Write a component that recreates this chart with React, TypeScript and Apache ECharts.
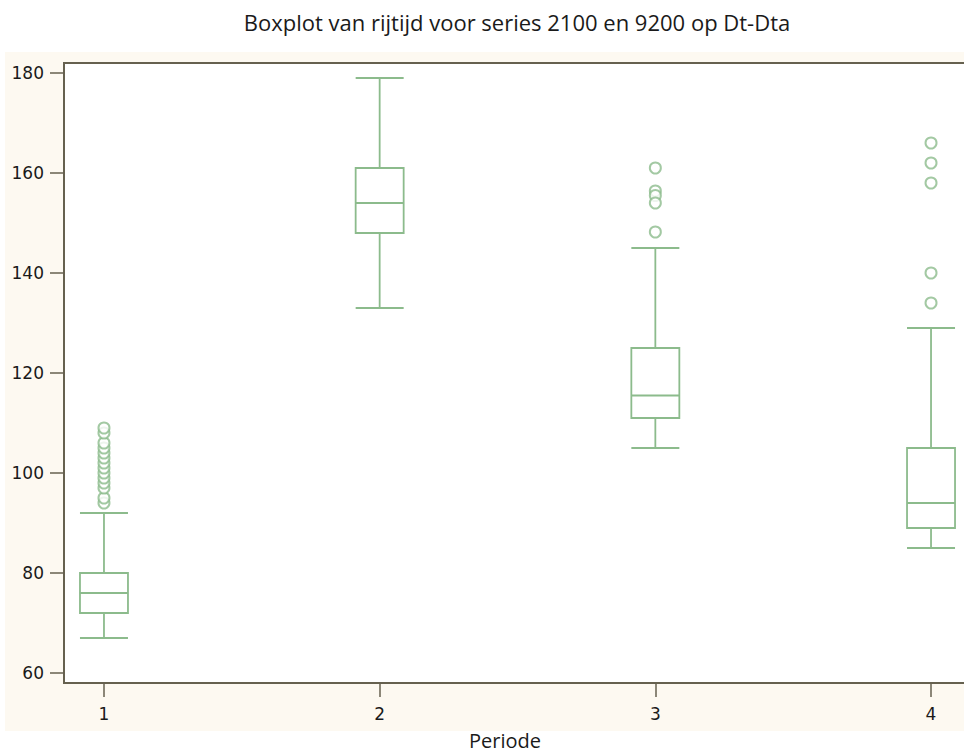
import React, { useEffect, useRef } from "react";
import * as echarts from "echarts";

const periods = [1, 2, 3, 4];
const whiskerLow = [67, 133, 105, 85];
const q1 = [72, 148, 111, 89];
const median = [76, 154, 115.5, 94];
const q3 = [80, 161, 125, 105];
const whiskerHigh = [92, 179, 145, 129];

const outliers1 = [94, 95, 97, 98, 99, 100, 101, 102, 103, 104, 105, 106, 108, 109];
const outliers2: number[] = [];
const outliers3 = [161, 156.4, 155.5, 154, 148.2];
const outliers4 = [166, 162, 158, 140, 134];

const yTicks = [60, 80, 100, 120, 140, 160, 180];
const xTicks = [1, 2, 3, 4];

const GREEN = "#8cbb8c";
const AXIS = "#66614f";
const BOX_HALF = 24;
const LABEL_FONT = "'DejaVu Sans', sans-serif";

export default function App() {
  const ref = useRef<HTMLDivElement>(null);
  useEffect(() => {
    if (!ref.current) return;
    const chart = echarts.init(ref.current, null, { renderer: "svg" });
    const boxData = periods.map((p, i) => [p, whiskerLow[i], q1[i], median[i], q3[i], whiskerHigh[i]]);
    const outlierData: number[][] = [];
    [outliers1, outliers2, outliers3, outliers4].forEach((arr, i) => {
      arr.forEach((v) => outlierData.push([periods[i], v]));
    });
    chart.setOption({
      animation: false,
      backgroundColor: "#ffffff",
      graphic: [
        {
          type: "rect",
          z: -10,
          silent: true,
          shape: { x: 5, y: 52, width: 1000, height: 679 },
          style: { fill: "#fdf9f1" },
        },
        {
          type: "text",
          x: 517,
          y: 22,
          style: {
            text: "Boxplot van rijtijd voor series 2100 en 9200 op Dt-Dta",
            fill: "#1a1a1a",
            font: "22px 'Open Sans', sans-serif",
            textAlign: "center",
            textVerticalAlign: "middle",
          },
        },
        {
          type: "text",
          x: 505,
          y: 740,
          style: {
            text: "Periode",
            fill: "#1a1a1a",
            font: "20px 'Open Sans', sans-serif",
            textAlign: "center",
            textVerticalAlign: "middle",
          },
        },
      ],
      grid: {
        left: 64,
        top: 63,
        width: 907,
        height: 620,
        show: true,
        backgroundColor: "#ffffff",
        borderColor: AXIS,
        borderWidth: 2,
        z: 0,
      },
      xAxis: {
        type: "value",
        min: 0.855,
        max: 4.145,
        splitLine: { show: false },
        axisLine: { show: true, lineStyle: { color: AXIS, width: 2 } },
        axisTick: { show: true, length: 14, customValues: xTicks, lineStyle: { color: AXIS, width: 1.5 } },
        axisLabel: {
          customValues: xTicks,
          margin: 22,
          color: "#1a1a1a",
          fontSize: 17,
          fontFamily: LABEL_FONT,
        },
      },
      yAxis: {
        type: "value",
        min: 58,
        max: 182,
        splitLine: { show: false },
        axisLine: { show: true, lineStyle: { color: AXIS, width: 2 } },
        axisTick: { show: true, length: 14, customValues: yTicks, lineStyle: { color: AXIS, width: 1.5 } },
        axisLabel: {
          customValues: yTicks,
          margin: 20,
          color: "#1a1a1a",
          fontSize: 17,
          fontFamily: LABEL_FONT,
        },
      },
      series: [
        {
          type: "custom",
          encode: { x: 0, y: [1, 2, 3, 4, 5] },
          data: boxData,
          renderItem: (params: any, api: any) => {
            const x = api.value(0);
            const lo = api.coord([x, api.value(1)]);
            const b1 = api.coord([x, api.value(2)]);
            const md = api.coord([x, api.value(3)]);
            const b3 = api.coord([x, api.value(4)]);
            const hi = api.coord([x, api.value(5)]);
            const cx = lo[0];
            const hw = BOX_HALF;
            const style = { stroke: GREEN, lineWidth: 1.8, fill: "none" };
            return {
              type: "group",
              children: [
                { type: "line", shape: { x1: cx, y1: hi[1], x2: cx, y2: b3[1] }, style },
                { type: "line", shape: { x1: cx, y1: b1[1], x2: cx, y2: lo[1] }, style },
                { type: "line", shape: { x1: cx - hw, y1: hi[1], x2: cx + hw, y2: hi[1] }, style },
                { type: "line", shape: { x1: cx - hw, y1: lo[1], x2: cx + hw, y2: lo[1] }, style },
                { type: "rect", shape: { x: cx - hw, y: b3[1], width: 2 * hw, height: b1[1] - b3[1] }, style },
                { type: "line", shape: { x1: cx - hw, y1: md[1], x2: cx + hw, y2: md[1] }, style },
              ],
            };
          },
        },
        {
          type: "scatter",
          data: outlierData,
          symbol: "emptyCircle",
          symbolSize: 11,
          itemStyle: { color: GREEN, borderColor: GREEN, borderWidth: 1.6 },
        },
      ],
    });
    return () => chart.dispose();
  }, []);
  return (
    <div
      style={{
        position: "fixed",
        left: 0,
        top: 0,
        width: 964,
        height: 755,
        overflow: "hidden",
        background: "#fff",
      }}
    >
      <div ref={ref} style={{ width: 990, height: 755 }} />
    </div>
  );
}
